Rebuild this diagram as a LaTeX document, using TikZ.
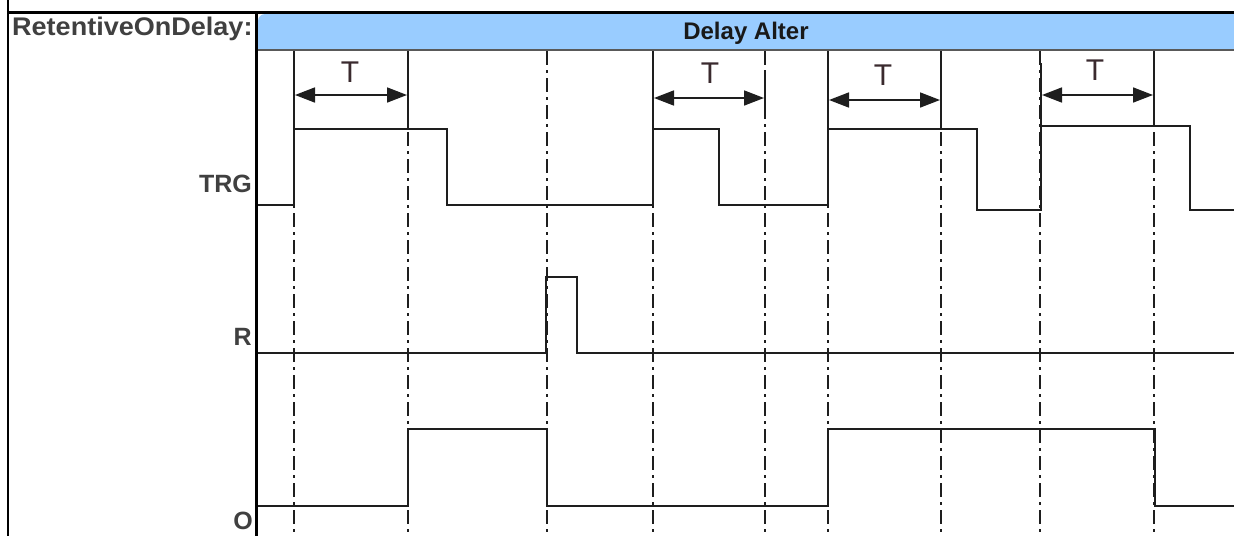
\documentclass[tikz,border=0pt]{standalone}
\usepackage{fontspec}
\setmainfont{Liberation Sans}
\newfontfamily\widefont[FakeStretch=1.06]{Liberation Sans}
\usetikzlibrary{arrows.meta}
\definecolor{barblue}{HTML}{99CCFF}
\definecolor{lblgray}{HTML}{404040}
\definecolor{tcol}{HTML}{3A2A2E}
\definecolor{linecol}{HTML}{1E1E1E}
\begin{document}
\begin{tikzpicture}[x=1pt,y=-1pt,
  sig/.style={line width=1.7pt, linecol, line join=miter},
  gridline/.style={line width=1.6pt, linecol, dash pattern=on 14pt off 5pt on 3pt off 5pt},
  tmark/.style={line width=1.6pt, linecol},
  tarrow/.style={line width=1.7pt, linecol, {Triangle[length=20pt,width=15pt]}-{Triangle[length=20pt,width=15pt]}},
  lbl/.style={font=\fontsize{25}{25}\selectfont\bfseries, text=lblgray, inner sep=0pt},
  tlbl/.style={font=\fontsize{30}{30}\selectfont, text=tcol, inner sep=0pt, anchor=base}]
\useasboundingbox (0,0) rectangle (1234,536);
% header bar
\fill[barblue] (258,50) -- (258,21) arc[start angle=180, end angle=270, radius=7] -- (1234,14) -- (1234,50) -- cycle;
\draw[line width=1.6pt, black!65] (258,50) -- (1234,50);
\node[font=\fontsize{24}{24}\selectfont\bfseries, text=black!90, inner sep=0pt, anchor=base] (title) at (746,39) {Delay Alter};
% borders
\draw[line width=2.5pt, black] (8,0) -- (8,536);
\draw[line width=3pt, black] (6.75,12) -- (1234,12);
\draw[line width=3pt, black] (256,12) -- (256,536);
% header label
\node[font=\fontsize{25.5}{25.5}\widefont\bfseries, text=lblgray, inner sep=0pt, anchor=base west] (name) at (12,35) {RetentiveOnDelay:};
% signal labels
\node[lbl, anchor=base east] (trg) at (252,192) {TRG};
\node[lbl, anchor=base east] (rlab) at (252,345) {R};
\node[lbl, anchor=base east] (olab) at (253,529) {O};
% grid lines
\foreach \x in {294,408,547,653,765,828,941,1040,1154}
  \draw[gridline] (\x,51) -- (\x,536);
% T marks
\draw[tmark] (294,63) -- (294,129);
\draw[tmark] (408,63) -- (408,129);
\draw[tmark] (653,62) -- (653,129);
\draw[line width=2.2pt, linecol] (765,70) -- (765,118);
\draw[tmark] (828,60) -- (828,129);
\draw[tmark] (941,60) -- (941,129);
\draw[tmark] (1041,63) -- (1041,126);
\draw[tmark] (1154,63) -- (1154,126);
% T arrows
\coordinate (a1l) at (295,95);  \coordinate (a1r) at (407,95);
\coordinate (a2l) at (654,98);  \coordinate (a2r) at (764,98);
\coordinate (a3l) at (829,100); \coordinate (a3r) at (940,100);
\coordinate (a4l) at (1042,95); \coordinate (a4r) at (1153,95);
\draw[tarrow] (a1l) -- (a1r);
\draw[tarrow] (a2l) -- (a2r);
\draw[tarrow] (a3l) -- (a3r);
\draw[tarrow] (a4l) -- (a4r);
\node[tlbl] (t1) at (350,82) {T};
\node[tlbl] (t2) at (710,83) {T};
\node[tlbl] (t3) at (883,85) {T};
\node[tlbl] (t4) at (1095,80) {T};
% signals
\draw[sig] (258,205) -- (294,205) -- (294,129) -- (447,129) -- (447,205) -- (653,205) -- (653,129) -- (719,129) -- (719,205) -- (828,205) -- (828,129) -- (977,129) -- (977,210) -- (1041,210) -- (1041,126) -- (1190,126) -- (1190,210) -- (1234,210);
\draw[sig] (258,353) -- (546,353) -- (546,277) -- (577,277) -- (577,353) -- (1234,353);
\draw[sig] (258,506) -- (408,506) -- (408,429) -- (547,429) -- (547,506) -- (828,506) -- (828,429) -- (1155,429) -- (1155,506) -- (1234,506);
\end{tikzpicture}
\end{document}
